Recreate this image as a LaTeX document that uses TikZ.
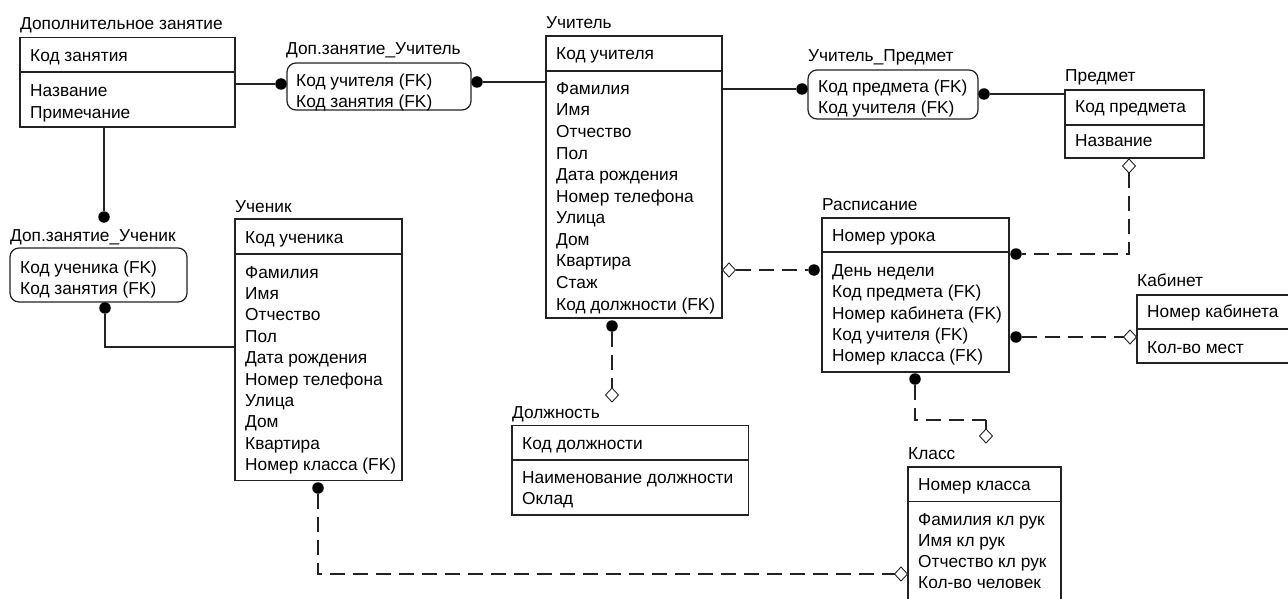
\documentclass[tikz,border=0pt]{standalone}
\usepackage{fontspec}
\setmainfont{Liberation Sans}
\usetikzlibrary{shapes.geometric}
\definecolor{ln}{HTML}{222222}
\tikzset{
  ent/.style={draw=ln, line width=1.2pt, inner sep=0pt, outer sep=0pt, anchor=north west},
  relbox/.style={ent, rounded corners=9pt},
  txt/.style={inner sep=0pt, anchor=base west, font=\fontsize{17.3}{20}\selectfont},
  divl/.style={draw=ln, line width=1.2pt},
  con/.style={draw=ln, line width=1.2pt},
  dsh/.style={draw=ln, line width=1.2pt, dash pattern=on 15pt off 8pt},
  blob/.style={circle, fill=black, draw=none, minimum size=11.5pt, inner sep=0pt, outer sep=0pt},
  dia/.style={diamond, draw=ln, fill=white, line width=0.9pt, minimum width=13pt, minimum height=14pt, inner sep=0pt, outer sep=0pt}
}
\begin{document}
\begin{tikzpicture}[x={(1pt,0pt)}, y={(0pt,-1pt)}]
\useasboundingbox (0,0) rectangle (1288,599);
\fill[white] (0,0) rectangle (1288,599);

% ---------- Дополнительное занятие ----------
\node[txt] (dz-t) at (20,30) {Дополнительное занятие};
\node[ent, minimum width=215pt, minimum height=89.3pt] (dz) at (20,37.7) {};
\draw[divl] (20,72) -- (235,72);
\node[txt] (dz-k) at (30,61.7) {Код занятия};
\foreach \t [count=\i from 0] in {Название, Примечание}
  \node[txt] (dz-a\i) at (30, 96.7+21.5*\i) {\t};

% ---------- Доп.занятие_Учитель ----------
\node[txt] (dzu-t) at (286,55) {Доп.занятие\_Учитель};
\node[relbox, minimum width=184pt, minimum height=47pt] (dzu) at (287,63) {};
\node[txt] (dzu-a0) at (296,86.7) {Код учителя (FK)};
\node[txt] (dzu-a1) at (296,107.5) {Код занятия (FK)};

% ---------- Учитель ----------
\node[txt] (uch-t) at (546,29) {Учитель};
\node[ent, minimum width=176pt, minimum height=282pt] (uch) at (546,36) {};
\draw[divl] (546,71) -- (722,71);
\node[txt] (uch-k) at (556,60) {Код учителя};
\foreach \t [count=\i from 0] in {Фамилия, Имя, Отчество, Пол, Дата рождения, Номер телефона, Улица, Дом, Квартира, Стаж, {Код должности (FK)}}
  \node[txt] (uch-a\i) at (556, 94.3+21.57*\i) {\t};

% ---------- Учитель_Предмет ----------
\node[txt] (up-t) at (808,61.7) {Учитель\_Предмет};
\node[relbox, minimum width=170pt, minimum height=49pt] (up) at (808,70) {};
\node[txt] (up-a0) at (818,93) {Код предмета (FK)};
\node[txt] (up-a1) at (818,114) {Код учителя (FK)};

% ---------- Предмет ----------
\node[txt] (pr-t) at (1065,81.7) {Предмет};
\node[ent, minimum width=139pt, minimum height=68pt] (pr) at (1065,90) {};
\draw[divl] (1065,125) -- (1204,125);
\node[txt] (pr-k) at (1075,113) {Код предмета};
\node[txt] (pr-a0) at (1075,147) {Название};

% ---------- Доп.занятие_Ученик ----------
\node[txt] (dzs-t) at (10,241.7) {Доп.занятие\_Ученик};
\node[relbox, minimum width=177pt, minimum height=54pt] (dzs) at (10,248) {};
\node[txt] (dzs-a0) at (20,273) {Код ученика (FK)};
\node[txt] (dzs-a1) at (20,294) {Код занятия (FK)};

% ---------- Ученик ----------
\node[txt] (ucn-t) at (235,212) {Ученик};
\node[ent, minimum width=167pt, minimum height=261.7pt] (ucn) at (235,219) {};
\draw[divl] (235,254) -- (402,254);
\node[txt] (ucn-k) at (245,243) {Код ученика};
\foreach \t [count=\i from 0] in {Фамилия, Имя, Отчество, Пол, Дата рождения, Номер телефона, Улица, Дом, Квартира, {Номер класса (FK)}}
  \node[txt] (ucn-a\i) at (245, 278+21.4*\i) {\t};

% ---------- Расписание ----------
\node[txt] (ras-t) at (822,210) {Расписание};
\node[ent, minimum width=187pt, minimum height=154pt] (ras) at (822,218) {};
\draw[divl] (822,252) -- (1009,252);
\node[txt] (ras-k) at (832,241.7) {Номер урока};
\foreach \t [count=\i from 0] in {День недели, {Код предмета (FK)}, {Номер кабинета (FK)}, {Код учителя (FK)}, {Номер класса (FK)}}
  \node[txt] (ras-a\i) at (832, 276.7+21.25*\i) {\t};

% ---------- Кабинет ----------
\node[txt] (kab-t) at (1137,286.7) {Кабинет};
\node[ent, minimum width=160pt, minimum height=68pt] (kab) at (1137,295) {};
\draw[divl] (1137,329) -- (1297,329);
\node[txt] (kab-k) at (1147,317) {Номер кабинета};
\node[txt] (kab-a0) at (1147,353) {Кол-во мест};

% ---------- Должность ----------
\node[txt] (dol-t) at (512,418) {Должность};
\node[ent, minimum width=236.6pt, minimum height=89.3pt] (dol) at (512,425.7) {};
\draw[divl] (512,460) -- (748.6,460);
\node[txt] (dol-k) at (522,449) {Код должности};
\node[txt] (dol-a0) at (522,483) {Наименование должности};
\node[txt] (dol-a1) at (522,504) {Оклад};

% ---------- Класс ----------
\node[txt] (kl-t) at (908,459) {Класс};
\node[ent, minimum width=153pt, minimum height=150pt] (kl) at (908,467) {};
\draw[divl] (908,501.7) -- (1061,501.7);
\node[txt] (kl-k) at (918,490) {Номер класса};
\foreach \t [count=\i from 0] in {Фамилия кл рук, Имя кл рук, Отчество кл рук, Кол-во человек}
  \node[txt] (kl-a\i) at (918, 525+21.3*\i) {\t};

% ---------- connector ends ----------
\node[blob] (d1) at (281,84) {};
\node[blob] (d2) at (477,82) {};
\node[blob] (d3) at (802,89) {};
\node[blob] (d4) at (984,94) {};
\node[blob] (d5) at (104,217) {};
\node[blob] (d6) at (105,308) {};
\node[blob] (d7) at (814,270) {};
\node[blob] (d8) at (1016,254) {};
\node[blob] (d9) at (1016,337) {};
\node[blob] (d10) at (612,326) {};
\node[blob] (d11) at (915,379) {};
\node[blob] (d12) at (318,488) {};
\node[dia] (m7) at (729,270) {};
\node[dia] (m8) at (1129,166) {};
\node[dia] (m9) at (1130,337) {};
\node[dia] (m10) at (612,395) {};
\node[dia] (m11) at (986,436) {};
\node[dia] (m12) at (901,574) {};
\coordinate (c6) at (105,347);
\coordinate (c8) at (1129,254);
\coordinate (c11a) at (915,420);
\coordinate (c11b) at (986,420);
\coordinate (c12) at (318,574);

% ---------- connectors ----------
\draw[con] (dz.east |- d1) -- (d1);
\draw[con] (d2) -- (d2 -| uch.west);
\draw[con] (uch.east |- d3) -- (d3);
\draw[con] (d4) -- (d4 -| pr.west);
\draw[con] (d5 |- dz.south) -- (d5);
\draw[con] (d6) -- (c6) -- (c6 -| ucn.west);
\draw[dsh] (m7) -- (d7);
\draw[dsh] (m8) -- (c8) -- (d8);
\draw[dsh] (d9) -- (m9);
\draw[dsh] (d10) -- (m10);
\draw[dsh] (d11) -- (c11a) -- (c11b);
\draw[con] (c11b) -- (m11);
\draw[dsh] (d12) -- (c12) -- (m12);
\end{tikzpicture}
\end{document}
